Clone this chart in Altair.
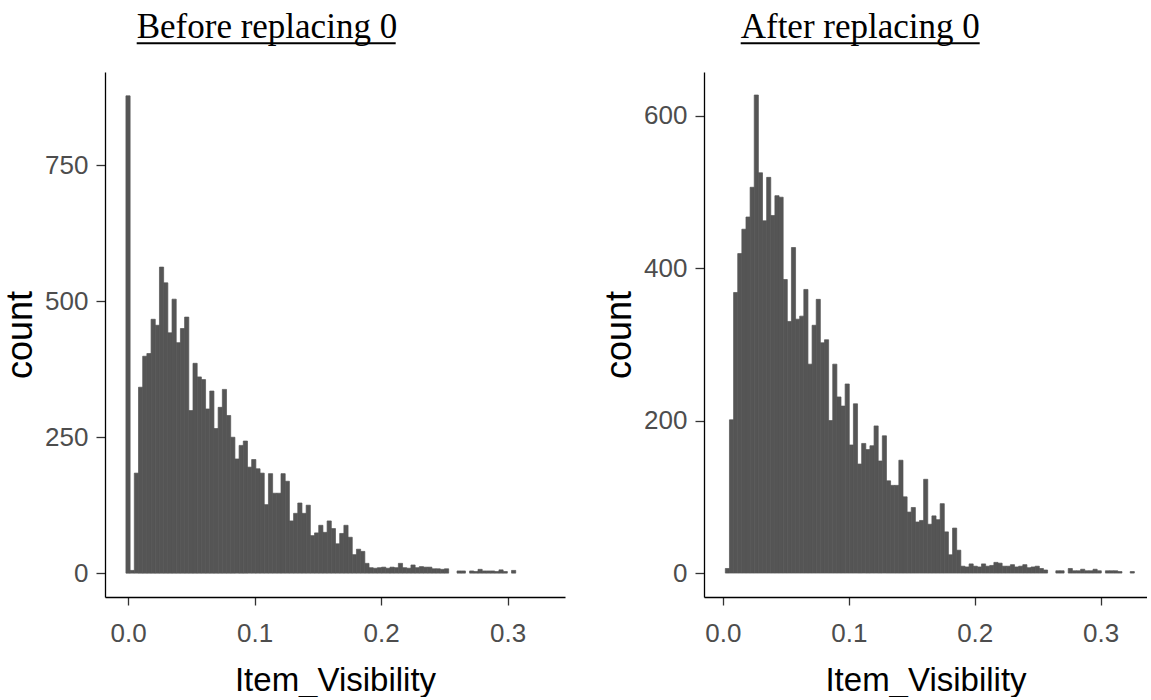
import altair as alt
import pandas as pd

# ---- data ----
left_title = "Before replacing 0"
right_title = "After replacing 0"
x_title = "Item_Visibility"
y_title = "count"

left_bin_start = -0.001658
left_bin_width = 0.003313
left_counts = [878, 5, 184, 342, 399, 404, 467, 456, 563, 534, 442, 504, 424, 450, 471,
               299, 386, 361, 356, 302, 335, 266, 305, 338, 290, 250, 210, 235, 243, 195,
               209, 192, 184, 126, 183, 147, 147, 183, 169, 96, 110, 129, 110, 125, 69,
               74, 88, 75, 96, 82, 54, 73, 88, 66, 34, 44, 40, 18, 10, 9,
               10, 11, 9, 11, 10, 18, 10, 9, 15, 10, 12, 11, 11, 8, 8,
               7, 8, 0, 0, 4, 4, 0, 4, 3, 7, 4, 4, 4, 3, 6,
               3, 0, 5, 0, 0, 0, 0, 0, 0, 0]

right_bin_start = 0.001935
right_bin_width = 0.003281
right_counts = [6, 201, 368, 419, 451, 467, 506, 627, 525, 462, 519, 469, 495, 493, 385,
                330, 427, 333, 337, 372, 274, 325, 359, 302, 306, 200, 274, 231, 219, 248,
                168, 222, 143, 170, 162, 167, 193, 147, 180, 121, 115, 115, 148, 100, 80,
                86, 67, 69, 123, 64, 75, 70, 91, 54, 24, 59, 30, 9,
                8, 12, 9, 8, 12, 9, 10, 14, 13, 9, 9, 11, 8, 9, 11, 7, 8, 9, 6, 4,
                0, 0, 3, 3, 0, 6, 3, 3, 5, 3, 3, 5, 3, 0, 3, 3, 3, 2, 0, 0, 2, 0]

x_ticks = [0.0, 0.1, 0.2, 0.3]
left_y_ticks = [0, 250, 500, 750]
right_y_ticks = [0, 200, 400, 600]

BAR = "#555555"


def bins(start, width, counts):
    return pd.DataFrame({
        "x0": [start + i * width for i in range(len(counts))],
        "x1": [start + (i + 1) * width for i in range(len(counts))],
        "count": counts,
    })


def panel(df, xdom, ydom, yticks, width, title, tx, tw):
    bars = alt.Chart(df).transform_filter("datum.count > 0").mark_bar(
        fill=BAR, stroke=BAR, strokeWidth=0.7
    ).encode(
        x=alt.X("x0:Q",
                scale=alt.Scale(domain=xdom, nice=False, zero=False),
                axis=alt.Axis(values=x_ticks, format=".1f", title=x_title,
                              labelPadding=15, titlePadding=18, titleFontSize=33)),
        x2="x1:Q",
        y=alt.Y("count:Q",
                scale=alt.Scale(domain=ydom, nice=False, zero=False),
                axis=alt.Axis(values=yticks, title=y_title, tickSize=9,
                              labelPadding=8, titlePadding=5, titleFontSize=36)),
        y2=alt.datum(0),
    )
    tdf = pd.DataFrame({"t": [title]})
    head = alt.Chart(tdf).mark_text(
        font="Liberation Serif", fontSize=35, align="left",
        baseline="alphabetic", color="black"
    ).encode(text="t:N", x=alt.value(tx), y=alt.value(-33.7))
    underline = alt.Chart(tdf).mark_rule(color="black", strokeWidth=2).encode(
        x=alt.value(tx), x2=alt.value(tx + tw), y=alt.value(-28.7))
    return alt.layer(bars, head, underline).properties(width=width, height=525)


left = panel(bins(left_bin_start, left_bin_width, left_counts),
             [-0.0182, 0.3454], [-43.9, 921.9], left_y_ticks, 460,
             left_title, 31.7, 259)
right = panel(bins(right_bin_start, right_bin_width, right_counts),
              [-0.0150, 0.3368], [-31.4, 657.2], right_y_ticks, 443,
              right_title, 36.7, 239)

chart = alt.hconcat(left, right, spacing=139, bounds="flush").properties(
    padding={"left": 2, "top": 10, "right": 0, "bottom": 0}
).configure_axis(
    grid=False,
    domainColor="black",
    domainWidth=1.3,
    tickColor="#333333",
    tickWidth=1.3,
    tickSize=8,
    labelFont="Liberation Sans",
    labelFontSize=26,
    labelColor="#4d4d4d",
    titleFont="Liberation Sans",
    titleFontWeight="normal",
    titleColor="black",
).configure_view(strokeWidth=0)

chart.save("out.html", embed_options={"renderer": "svg", "actions": False})
